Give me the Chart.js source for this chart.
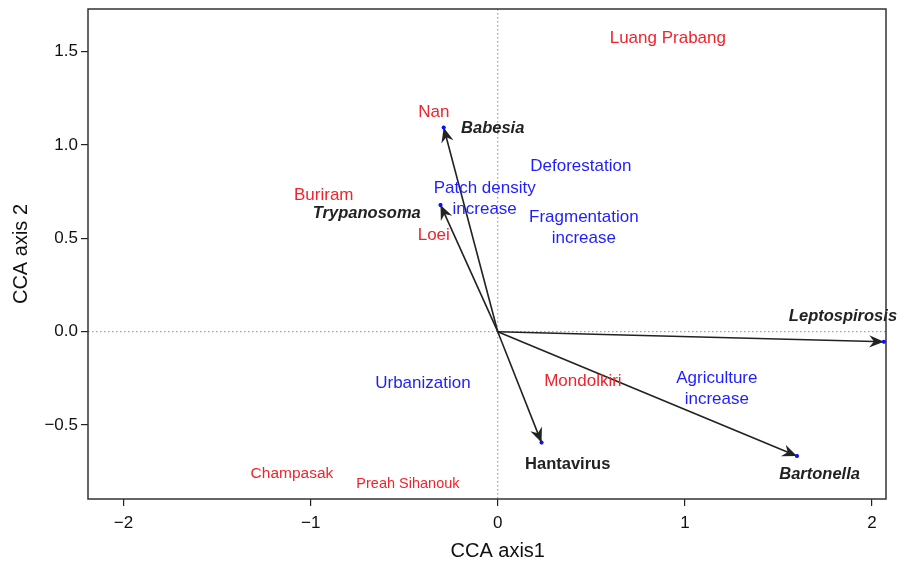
<!DOCTYPE html>
<html>
<head>
<meta charset="utf-8">
<script src="https://cdn.jsdelivr.net/npm/chart.js@4.4.0/dist/chart.umd.min.js"></script>
<style>
  body { margin: 0; background: #fff; }
  #wrap { width: 901px; height: 565px; }
</style>
</head>
<body>
<div id="wrap"><canvas id="cca"></canvas></div>
<script>
// pathogen vectors (arrow tips)
const pathogens = ['Babesia', 'Trypanosoma', 'Leptospirosis', 'Bartonella', 'Hantavirus'];
const arrowX = [-0.289, -0.306, 2.064, 1.599, 0.234];
const arrowY = [1.093, 0.679, -0.054, -0.666, -0.594];
const pathogenLabelX = [-0.027, -0.70, 1.845, 1.72, 0.374];
const pathogenLabelY = [1.09, 0.635, 0.084, -0.763, -0.709];

// sites (red)
const sites = ['Luang Prabang', 'Nan', 'Buriram', 'Loei', 'Mondolkiri', 'Champasak', 'Preah Sihanouk'];
const siteX = [0.909, -0.342, -0.93, -0.342, 0.455, -1.10, -0.48];
const siteY = [1.573, 1.176, 0.731, 0.518, -0.266, -0.763, -0.816];

// landscape drivers (blue)
const drivers = [['Deforestation'], ['Patch density', 'increase'], ['Fragmentation', 'increase'], ['Urbanization'], ['Agriculture', 'increase']];
const driverX = [0.444, -0.07, 0.46, -0.40, 1.171];
const driverY = [0.887, 0.713, 0.555, -0.277, -0.306];

const xTicks = [-2, -1, 0, 1, 2];
const yTicks = [-0.5, 0.0, 0.5, 1.0, 1.5];

const FONT = '"Liberation Sans", Arial, Helvetica, sans-serif';
const RED = '#f0242c';
const BLUE = '#1e1eff';
const DARK = '#222222';

function fmt(v, d) {
  return (v < 0 ? '\u2212' : '') + Math.abs(v).toFixed(d);
}

const datasets = pathogens.map((p, i) => ({
  label: p,
  data: [{ x: 0, y: 0 }, { x: arrowX[i], y: arrowY[i] }],
  showLine: true,
  borderColor: DARK,
  borderWidth: 1.6,
  pointRadius: [0, 2],
  pointBackgroundColor: '#1010ff',
  pointBorderWidth: 0
}));

const overlay = {
  id: 'overlay',
  beforeDatasetsDraw(chart) {
    const { ctx, chartArea: a, scales: { x, y } } = chart;
    ctx.save();
    // dotted zero lines
    ctx.strokeStyle = '#888';
    ctx.lineWidth = 1;
    ctx.setLineDash([1.5, 2.5]);
    ctx.beginPath();
    ctx.moveTo(x.getPixelForValue(0), a.top);
    ctx.lineTo(x.getPixelForValue(0), a.bottom);
    ctx.moveTo(a.left, y.getPixelForValue(0));
    ctx.lineTo(a.right, y.getPixelForValue(0));
    ctx.stroke();
    ctx.restore();
  },
  afterDatasetsDraw(chart) {
    const { ctx, chartArea: a, scales: { x, y } } = chart;
    ctx.save();

    // arrow heads
    ctx.fillStyle = DARK;
    pathogens.forEach((p, i) => {
      const tx = x.getPixelForValue(arrowX[i]), ty = y.getPixelForValue(arrowY[i]);
      const ox = x.getPixelForValue(0), oy = y.getPixelForValue(0);
      const ang = Math.atan2(oy - ty, ox - tx);
      const len = 16, spread = 0.4;
      ctx.beginPath();
      ctx.moveTo(tx, ty);
      ctx.lineTo(tx + len * Math.cos(ang + spread), ty + len * Math.sin(ang + spread));
      ctx.lineTo(tx + 10 * Math.cos(ang), ty + 10 * Math.sin(ang));
      ctx.lineTo(tx + len * Math.cos(ang - spread), ty + len * Math.sin(ang - spread));
      ctx.closePath();
      ctx.fill();
      // blue tip dot on top
      ctx.fillStyle = '#1010ff';
      ctx.beginPath();
      ctx.arc(tx, ty, 1.8, 0, Math.PI * 2);
      ctx.fill();
      ctx.fillStyle = DARK;
    });

    ctx.textAlign = 'center';
    ctx.textBaseline = 'middle';

    // site names
    ctx.fillStyle = RED;
    sites.forEach((s, i) => {
      const size = i === 5 ? 15.5 : i === 6 ? 14.5 : 17;
      ctx.font = size + 'px ' + FONT;
      ctx.fillText(s, x.getPixelForValue(siteX[i]), y.getPixelForValue(siteY[i]));
    });

    // drivers
    ctx.fillStyle = BLUE;
    ctx.font = '17px ' + FONT;
    drivers.forEach((lines, i) => {
      const cx = x.getPixelForValue(driverX[i]), cy = y.getPixelForValue(driverY[i]);
      const off = (lines.length - 1) * 10.5;
      lines.forEach((t, k) => ctx.fillText(t, cx, cy - off + k * 21));
    });

    // pathogen labels
    ctx.fillStyle = DARK;
    pathogens.forEach((p, i) => {
      ctx.font = (p === 'Hantavirus' ? 'bold ' : 'italic bold ') + '16.5px ' + FONT;
      ctx.fillText(p, x.getPixelForValue(pathogenLabelX[i]), y.getPixelForValue(pathogenLabelY[i]));
    });

    // box
    ctx.strokeStyle = '#333';
    ctx.lineWidth = 1.5;
    ctx.strokeRect(a.left, a.top, a.right - a.left, a.bottom - a.top);

    // axis titles
    ctx.fillStyle = '#111';
    ctx.font = '20px ' + FONT;
    ctx.fillText('CCA axis1', x.getPixelForValue(0), 551);
    ctx.translate(21, (a.top + a.bottom) / 2);
    ctx.rotate(-Math.PI / 2);
    ctx.fillText('CCA axis 2', 0, 0);
    ctx.restore();
  }
};

new Chart(document.getElementById('cca'), {
  type: 'scatter',
  data: { datasets },
  plugins: [overlay],
  options: {
    responsive: true,
    maintainAspectRatio: false,
    animation: false,
    layout: { padding: { left: 0, right: 15, top: 9, bottom: 0 } },
    plugins: { legend: { display: false }, tooltip: { enabled: false } },
    scales: {
      x: {
        type: 'linear',
        min: -2.19,
        max: 2.075,
        afterBuildTicks: s => { s.ticks = xTicks.map(v => ({ value: v })); },
        afterFit: s => { s.height = 66; s.paddingLeft = 0; s.paddingRight = 0; },
        grid: { drawOnChartArea: false, drawTicks: true, tickLength: 7, color: '#222', lineWidth: 1.2 },
        border: { display: false },
        ticks: {
          color: '#111',
          font: { family: FONT, size: 17 },
          padding: 7,
          maxRotation: 0,
          callback: v => fmt(v, 0)
        }
      },
      y: {
        type: 'linear',
        min: -0.896,
        max: 1.728,
        afterBuildTicks: s => { s.ticks = yTicks.map(v => ({ value: v })); },
        afterFit: s => { s.width = 88; s.paddingTop = 0; s.paddingBottom = 0; },
        grid: { drawOnChartArea: false, drawTicks: true, tickLength: 7, color: '#222', lineWidth: 1.2 },
        border: { display: false },
        ticks: {
          color: '#111',
          font: { family: FONT, size: 17 },
          padding: 3,
          callback: v => fmt(v, 1)
        }
      }
    }
  }
});
</script>
</body>
</html>
